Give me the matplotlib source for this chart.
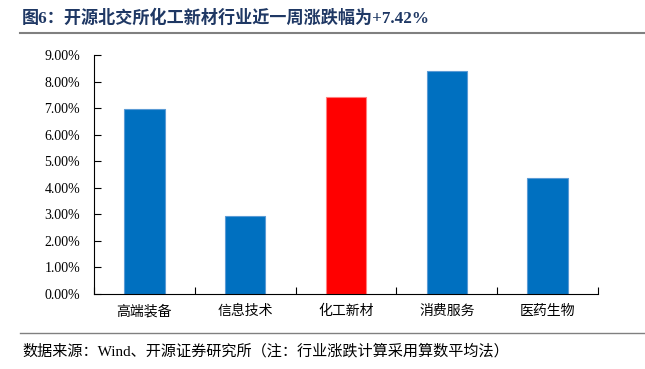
import matplotlib
matplotlib.use("Agg")
import matplotlib.pyplot as plt
from matplotlib.ticker import FuncFormatter, FixedLocator
from matplotlib.lines import Line2D

plt.rcParams['font.family'] = ['Liberation Serif', 'Noto Sans CJK SC', 'DejaVu Sans']

categories = ['高端装备', '信息技术', '化工新材', '消费服务', '医药生物']
values = [6.97, 2.92, 7.42, 8.41, 4.38]
colors = ['#0070C0', '#0070C0', '#FF0000', '#0070C0', '#0070C0']
edges = ['#5B9BD5', '#5B9BD5', '#FF7F7F', '#5B9BD5', '#5B9BD5']
yticks = [0, 1, 2, 3, 4, 5, 6, 7, 8, 9]

title = '图6：开源北交所化工新材行业近一周涨跌幅为+7.42%'
source = '数据来源：Wind、开源证券研究所（注：行业涨跌计算采用算数平均法）'

fig = plt.figure(figsize=(6.45, 3.69), dpi=100)
ax = fig.add_axes([94/645, 1-294/369, (598-94)/645, (294-55)/369])

x = list(range(len(categories)))
ax.bar(x, values, width=0.4, color=colors, edgecolor=edges, linewidth=0.8)
ax.set_xlim(-0.5, len(categories) - 0.5)
ax.set_ylim(0, 9)
ax.set_yticks(yticks)
ax.yaxis.set_major_formatter(FuncFormatter(lambda v, p: f'{v:.2f}%'))
ax.set_xticks(x)
ax.set_xticklabels(categories, fontsize=10)
ax.tick_params(axis='x', length=0, pad=8)
ax.xaxis.set_minor_locator(FixedLocator([i + 0.5 for i in range(-1, len(categories))]))
ax.tick_params(axis='x', which='minor', direction='in', length=5, width=0.8)
ax.tick_params(axis='y', direction='in', length=5, width=0.8, labelsize=10, pad=10)
for s in ['top', 'right']:
    ax.spines[s].set_visible(False)
for s in ['left', 'bottom']:
    ax.spines[s].set_linewidth(0.8)
    ax.spines[s].set_color('black')

fig.text(22/645, 1-18/369, title, fontsize=12.3, fontweight='bold', color='#1F3864', va='center', ha='left')
fig.add_artist(Line2D([20/645, 1.0], [1-33/369, 1-33/369], color='#808080', linewidth=1.5, transform=fig.transFigure))
fig.add_artist(Line2D([20/645, 1.0], [1-333/369, 1-333/369], color='#808080', linewidth=1.0, transform=fig.transFigure))
fig.text(22/645, 1-351/369, source, fontsize=10.9, color='black', va='center', ha='left')

fig.savefig('out.png', dpi=100)
